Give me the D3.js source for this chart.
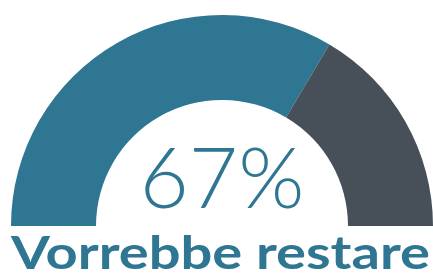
<!DOCTYPE html>
<html>
<head>
<meta charset="utf-8">
<script src="https://cdn.jsdelivr.net/npm/d3@7"></script>
<style>
  html, body { margin: 0; padding: 0; background: #fff; }
  svg { display: block; }
</style>
</head>
<body>
<div id="chart"></div>
<script>
// gauge data
const labels = ["Vorrebbe restare", "Altro"];
const values = [67, 33];
const colors = ["#2f7693", "#474f58"];

const WIDTH = 433;
const HEIGHT = 273;
const cx = 222, cy = 226;
const outerR = 211, innerR = 126;

const svg = d3.select("#chart")
  .append("svg")
  .attr("width", WIDTH)
  .attr("height", HEIGHT);

// half pie, left to right
const pie = d3.pie()
  .sort(null)
  .startAngle(-Math.PI / 2)
  .endAngle(Math.PI / 2);

const arc = d3.arc()
  .innerRadius(innerR)
  .outerRadius(outerR);

const g = svg.append("g")
  .attr("transform", `translate(${cx}, ${cy})`);

g.selectAll("path")
  .data(pie(values))
  .enter().append("path")
  .attr("d", arc)
  .attr("fill", (d, i) => colors[i]);

// big percentage
svg.append("text")
  .attr("x", cx)
  .attr("y", 208)
  .attr("text-anchor", "middle")
  .style("font-family", "Lato")
  .style("font-weight", 300)
  .style("font-size", "85px")
  .attr("fill", colors[0])
  .text(values[0] + "%");

// label, stretched to the width of the gauge like the original wide font
svg.append("text")
  .attr("x", 11)
  .attr("y", 269)
  .attr("textLength", 419)
  .attr("lengthAdjust", "spacingAndGlyphs")
  .style("font-family", "Lato")
  .style("font-weight", 700)
  .style("font-size", "45px")
  .attr("fill", colors[0])
  .text(labels[0]);
</script>
</body>
</html>
